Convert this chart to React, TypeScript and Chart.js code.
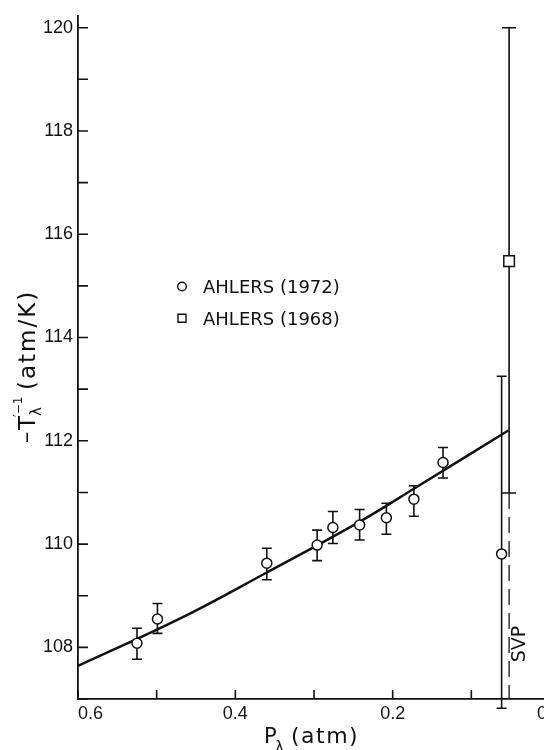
import React, { useEffect, useRef } from 'react';
import { Chart, registerables } from 'chart.js';

Chart.register(...registerables);

// ---- data ----
const ahlers1972P = [0.525, 0.499, 0.36, 0.296, 0.276, 0.242, 0.208, 0.173, 0.136, 0.0615];
const ahlers1972Y = [108.08, 108.55, 109.63, 109.98, 110.32, 110.37, 110.51, 110.87, 111.58, 109.81];
const ahlers1972Hi = [108.37, 108.85, 109.92, 110.27, 110.63, 110.67, 110.79, 111.13, 111.87, 113.25];
const ahlers1972Lo = [107.77, 108.27, 109.31, 109.68, 110.01, 110.08, 110.19, 110.54, 111.28, 106.82];

const ahlers1968P = [0.052];
const ahlers1968Y = [115.48];
const ahlers1968Hi = [120.0];
const ahlers1968Lo = [110.99];

const fitP = [0.6, 0.47, 0.36, 0.24, 0.17, 0.053];
const fitY = [107.64, 108.56, 109.45, 110.45, 111.1, 112.2];

const svpP = 0.052;
const svpY = [110.99, 107];

const xLabelValues = [0.6, 0.4, 0.2, 0];
const yLabelValues = [108, 110, 112, 114, 116, 118, 120];
const legendLabels = ['AHLERS (1972)', 'AHLERS (1968)'];

const INK = '#111';
const TEXT_FONT = '"DejaVu Sans", sans-serif';
const TICK_FONT = '"Liberation Sans", sans-serif';

const xLabelText = (n: number) => {
  if (!xLabelValues.some((l) => Math.abs(l - n) < 1e-6)) return '';
  return Math.abs(n) < 1e-9 ? '0' : n.toFixed(1);
};

const errorBarPlugin = {
  id: 'errorBars',
  beforeDatasetsDraw(chart: any) {
    const { ctx, scales } = chart;
    const xs = scales.x, ys = scales.y;
    chart.data.datasets.forEach((ds: any) => {
      if (!ds.errLo) return;
      ctx.save();
      ctx.strokeStyle = INK;
      ctx.lineWidth = 1.6;
      ds.data.forEach((pt: any, j: number) => {
        const px = xs.getPixelForValue(pt.x);
        const yl = ys.getPixelForValue(ds.errLo[j]);
        const yh = ys.getPixelForValue(ds.errHi[j]);
        const c = ds.capHalf;
        ctx.beginPath();
        ctx.moveTo(px, yl); ctx.lineTo(px, yh);
        ctx.moveTo(px - c, yl); ctx.lineTo(px + c, yl);
        ctx.moveTo(px - c, yh); ctx.lineTo(px + c, yh);
        ctx.stroke();
      });
      ctx.restore();
    });
  },
};

const decorPlugin = {
  id: 'decor',
  afterDraw(chart: any) {
    const { ctx, scales, chartArea } = chart;
    const xs = scales.x, ys = scales.y;
    ctx.save();
    // inward tick marks
    ctx.strokeStyle = INK;
    ctx.lineWidth = 1.6;
    ctx.beginPath();
    ys.ticks.forEach((t: any) => {
      const py = ys.getPixelForValue(t.value);
      ctx.moveTo(chartArea.left, py); ctx.lineTo(chartArea.left + 10, py);
    });
    xs.ticks.forEach((t: any) => {
      const px = xs.getPixelForValue(t.value);
      ctx.moveTo(px, chartArea.bottom); ctx.lineTo(px, chartArea.bottom - 9);
    });
    ctx.stroke();

    // x tick labels (end labels kept inside the axis)
    ctx.fillStyle = INK;
    ctx.font = `18px ${TICK_FONT}`;
    ctx.textBaseline = 'alphabetic';
    const xmax = Math.max(...xs.ticks.map((t: any) => t.value));
    const xmin = Math.min(...xs.ticks.map((t: any) => t.value));
    xs.ticks.forEach((t: any) => {
      const txt = xLabelText(t.value);
      if (!txt) return;
      const px = xs.getPixelForValue(t.value);
      ctx.textAlign = t.value === xmax ? 'left' : t.value === xmin ? 'right' : 'center';
      ctx.fillText(txt, t.value === xmin ? px - 3 : px, chartArea.bottom + 19.5);
    });

    // legend
    ctx.font = `18px ${TEXT_FONT}`;
    ctx.textAlign = 'left';
    const legendSets = chart.data.datasets.filter((d: any) => d.legendMarker);
    legendSets.forEach((d: any, i: number) => {
      const cy = 286.5 + i * 31.8;
      const cx = 182;
      ctx.lineWidth = 1.4;
      ctx.beginPath();
      if (d.legendMarker === 'circle') ctx.arc(cx, cy, 4.3, 0, Math.PI * 2);
      else ctx.rect(cx - 4, cy - 4, 8, 8);
      ctx.stroke();
      ctx.fillText(d.label, 203, cy + 6.5);
    });

    // SVP label (rotated)
    ctx.save();
    ctx.translate(xs.getPixelForValue(svpP) + 16, 644);
    ctx.rotate(-Math.PI / 2);
    ctx.textAlign = 'center';
    ctx.font = `19px ${TEXT_FONT}`;
    ctx.fillText('SVP', 0, 0);
    ctx.restore();

    // y-axis title (rotated)
    ctx.save();
    ctx.translate(35, 443);
    ctx.rotate(-Math.PI / 2);
    ctx.textAlign = 'left';
    ctx.font = `23px ${TEXT_FONT}`;
    ctx.fillText('–', 0, -1);
    ctx.fillText('T', 13, 0);
    ctx.font = `15px ${TEXT_FONT}`;
    ctx.fillText('λ', 27, 6);
    ctx.font = `12px ${TEXT_FONT}`;
    ctx.fillText('′−1', 26, -13);
    ctx.font = `23px ${TEXT_FONT}`;
    (ctx as any).letterSpacing = '2px';
    ctx.fillText('(atm/K)', 53, 0);
    ctx.restore();

    // x-axis title
    ctx.textAlign = 'left';
    (ctx as any).letterSpacing = '0px';
    ctx.font = `21px ${TEXT_FONT}`;
    ctx.fillText('P', 264, 743);
    ctx.font = `15px ${TEXT_FONT}`;
    ctx.fillText('λ', 275, 752);
    ctx.font = `22px ${TEXT_FONT}`;
    (ctx as any).letterSpacing = '1.5px';
    ctx.fillText('(atm)', 291, 743);
    ctx.restore();
  },
};

export default function App() {
  const ref = useRef<HTMLCanvasElement>(null);
  useEffect(() => {
    const canvas = ref.current!;
    const chart = new Chart(canvas, {
      type: 'scatter',
      data: {
        datasets: [
          {
            label: legendLabels[0],
            data: ahlers1972P.map((x, i) => ({ x, y: ahlers1972Y[i] })),
            pointStyle: 'circle',
            pointRadius: 5,
            pointBackgroundColor: '#fff',
            pointBorderColor: INK,
            pointBorderWidth: 1.5,
            showLine: false,
            errLo: ahlers1972Lo,
            errHi: ahlers1972Hi,
            capHalf: 5,
            legendMarker: 'circle',
          } as any,
          {
            label: legendLabels[1],
            data: ahlers1968P.map((x, i) => ({ x, y: ahlers1968Y[i] })),
            pointStyle: 'rect',
            pointRadius: 7.5,
            pointBackgroundColor: '#fff',
            pointBorderColor: INK,
            pointBorderWidth: 1.5,
            showLine: false,
            errLo: ahlers1968Lo,
            errHi: ahlers1968Hi,
            capHalf: 7,
            legendMarker: 'rect',
          } as any,
          {
            label: 'SVP',
            type: 'line',
            data: svpY.map((y) => ({ x: svpP, y })),
            borderColor: INK,
            borderWidth: 1.3,
            borderDash: [16, 8],
            pointRadius: 0,
            showLine: true,
          } as any,
          {
            label: 'fit',
            type: 'line',
            data: fitP.map((x, i) => ({ x, y: fitY[i] })),
            borderColor: INK,
            borderWidth: 2.5,
            pointRadius: 0,
            tension: 0.4,
            showLine: true,
          } as any,
        ],
      },
      options: {
        responsive: false,
        animation: false,
        layout: { padding: { left: 0, right: 10, top: 12, bottom: 0 } },
        plugins: { legend: { display: false }, tooltip: { enabled: false } },
        scales: {
          x: {
            type: 'linear',
            reverse: true,
            min: 0,
            max: 0.6,
            afterFit: (s: any) => { s.height = 51; },
            grid: { display: false, drawTicks: false },
            border: { display: true, color: INK, width: 1.8 },
            ticks: {
              stepSize: 0.1,
              autoSkip: false,
              maxRotation: 0,
              padding: 1,
              color: 'rgba(0,0,0,0)',
              font: { family: TICK_FONT, size: 18 },
              callback: (v: any) => xLabelText(Number(v)),
            },
          },
          y: {
            type: 'linear',
            min: 107,
            max: 120.23,
            afterFit: (s: any) => { s.width = 78; },
            grid: { display: false, drawTicks: false },
            border: { display: true, color: INK, width: 1.8 },
            ticks: {
              stepSize: 1,
              includeBounds: false,
              autoSkip: false,
              padding: 5,
              color: INK,
              font: { family: TICK_FONT, size: 18 },
              callback: (v: any) => (yLabelValues.includes(Number(v)) ? String(v) : ''),
            },
          },
        },
      } as any,
      plugins: [errorBarPlugin, decorPlugin],
    });
    return () => chart.destroy();
  }, []);

  return (
    <div style={{ position: 'absolute', left: 0, top: 0, width: 544, height: 750, overflow: 'hidden', background: '#fff' }}>
      <canvas ref={ref} width={560} height={750} style={{ width: 560, height: 750, display: 'block' }} />
    </div>
  );
}
